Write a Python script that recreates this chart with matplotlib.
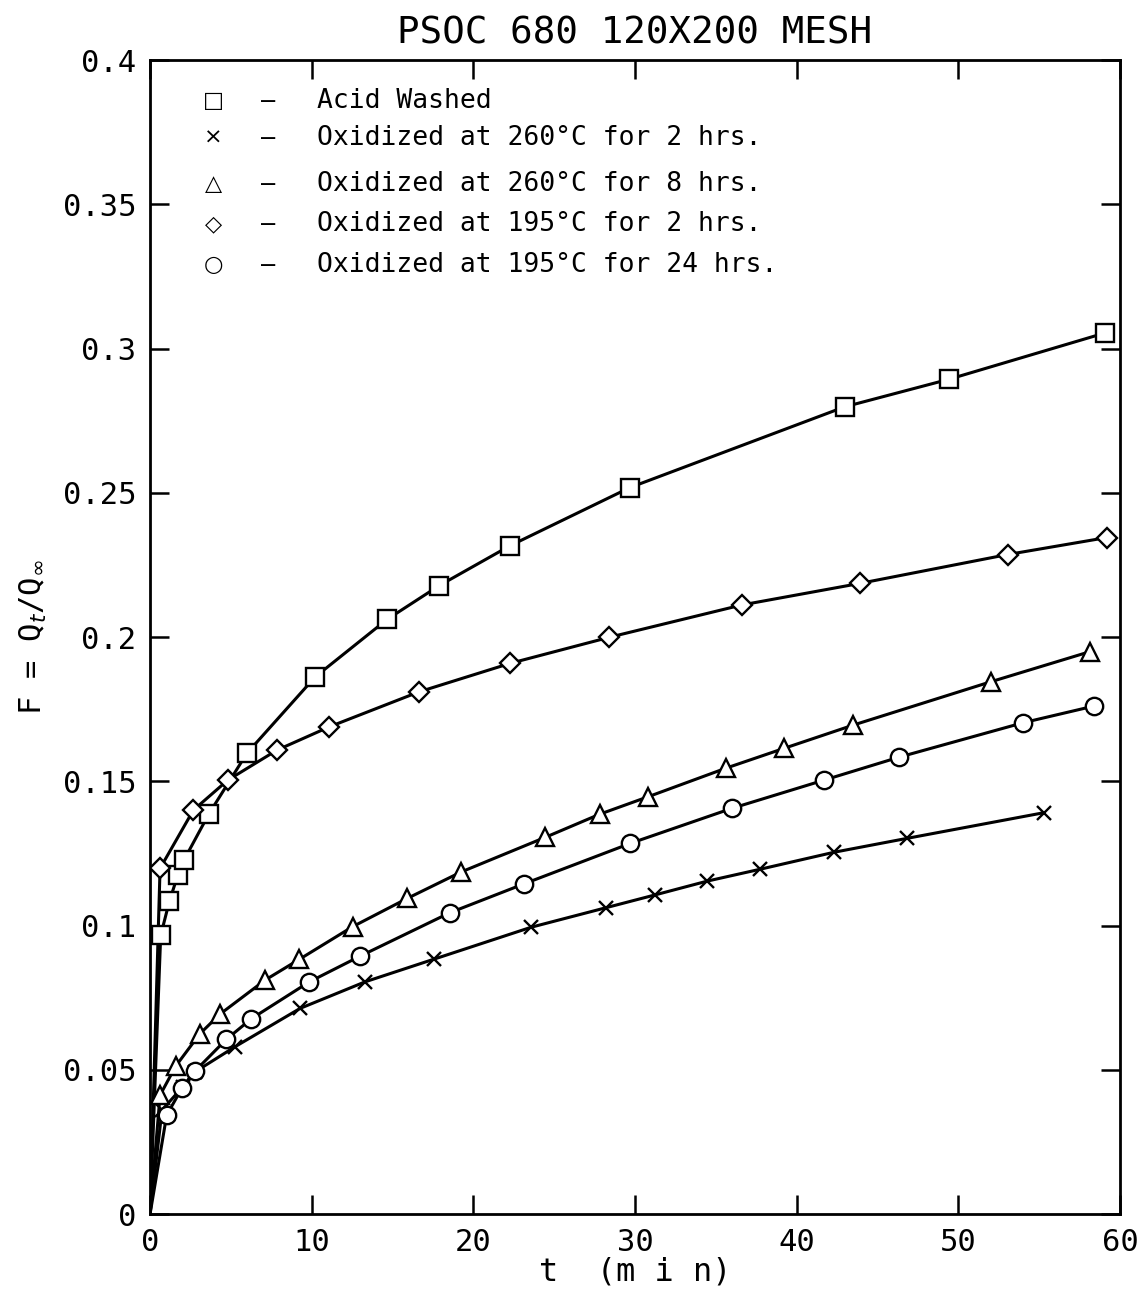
#!/usr/bin/env python3
"""fractional uptake vs time, PSOC 680 120x200 mesh"""

import matplotlib
matplotlib.use("Agg")
import matplotlib.pyplot as plt
from matplotlib.ticker import FuncFormatter

plt.rcParams["font.family"] = ["DejaVu Sans Mono", "DejaVu Sans"]
plt.rcParams["mathtext.fontset"] = "dejavusans"

# data (t in min, F = Qt/Qinf)
acid_t = [0.66, 1.20, 1.72, 2.09, 3.63, 5.99, 10.22, 14.66, 17.88, 22.25,
          29.68, 42.97, 49.45, 59.07]
acid_f = [0.0966, 0.1085, 0.1175, 0.1226, 0.1386, 0.1597, 0.1862, 0.2061,
          0.2178, 0.2316, 0.2518, 0.2798, 0.2894, 0.3054]

ox260_2_t = [0.74, 2.02, 2.79, 5.26, 9.29, 13.31, 17.54, 23.57, 28.22, 31.23,
             34.47, 37.73, 42.31, 46.81, 55.28]
ox260_2_f = [0.036, 0.0441, 0.0493, 0.0580, 0.0713, 0.0805, 0.0883, 0.0994,
             0.1062, 0.1106, 0.1154, 0.1195, 0.1254, 0.1302, 0.1391]

ox260_8_t = [0.62, 1.58, 3.07, 4.33, 7.12, 9.24, 12.53, 15.91, 19.26, 24.46,
             27.82, 30.79, 35.60, 39.21, 43.51, 52.01, 58.12]
ox260_8_f = [0.0412, 0.0512, 0.0624, 0.0693, 0.0811, 0.0883, 0.0996, 0.1094,
             0.1186, 0.1306, 0.1386, 0.1446, 0.1545, 0.1614, 0.1695, 0.1845,
             0.1949]

ox195_2_t = [0.62, 2.68, 4.81, 7.85, 11.10, 16.64, 22.29, 28.40, 36.59,
             43.92, 53.05, 59.2]
ox195_2_f = [0.1198, 0.1400, 0.1504, 0.1608, 0.1689, 0.1810, 0.1909, 0.1999,
             0.2111, 0.2186, 0.2286, 0.2345]

ox195_24_t = [1.03, 1.99, 2.79, 4.71, 6.27, 9.86, 13.00, 18.53, 23.11, 29.72,
              35.98, 41.69, 46.30, 54.01, 58.41]
ox195_24_f = [0.0343, 0.0438, 0.0496, 0.0605, 0.0677, 0.0805, 0.0894, 0.1044,
              0.1144, 0.1285, 0.1406, 0.1504, 0.1583, 0.1703, 0.1761]

labels = [
    "Acid Washed",
    "Oxidized at 260°C for 2 hrs.",
    "Oxidized at 260°C for 8 hrs.",
    "Oxidized at 195°C for 2 hrs.",
    "Oxidized at 195°C for 24 hrs.",
]
symbols = ["□", "×", "△", "◇", "○"]
x_ticks = [0, 10, 20, 30, 40, 50, 60]
y_ticks = [0, 0.05, 0.1, 0.15, 0.2, 0.25, 0.3, 0.35, 0.4]

series = [
    (acid_t, acid_f, "s", 12.5),
    (ox260_2_t, ox260_2_f, "x", 10),
    (ox260_8_t, ox260_8_f, "^", 13),
    (ox195_2_t, ox195_2_f, "D", 10),
    (ox195_24_t, ox195_24_f, "o", 12.5),
]

fig = plt.figure(figsize=(11.41, 12.94), dpi=100)
ax = fig.add_axes([0.1315, 0.0618, 0.8501, 0.8918])

for t, f, mk, ms in series:
    # every curve starts at the origin
    ax.plot([0] + t, [0] + f, color="black", linewidth=2.2, zorder=2)
    ax.plot(t, f, linestyle="none", marker=mk, markersize=ms,
            markerfacecolor="white", markeredgecolor="black",
            markeredgewidth=1.7, zorder=3)

ax.set_xlim(0, 60)
ax.set_ylim(0, 0.4)
ax.set_xticks(x_ticks)
ax.set_yticks(y_ticks)
ax.yaxis.set_major_formatter(FuncFormatter(lambda v, p: "0" if v == 0 else f"{v:g}"))
ax.tick_params(direction="in", length=14, width=1.8, top=True, right=True,
               labelsize=22, pad=10)
for sp in ax.spines.values():
    sp.set_linewidth(2.0)

ax.set_xlabel("t  (m i n)", fontsize=23, labelpad=0)
ax.set_ylabel(r"F = Q$_t$/Q$_\infty$", fontsize=22, labelpad=10)
ax.set_title("PSOC 680 120X200 MESH", fontsize=27, pad=12)

# hand-drawn style legend: symbol, dash, description
rows_y = [0.9645, 0.9324, 0.8925, 0.8579, 0.8224]
for sym, lab, yy in zip(symbols, labels, rows_y):
    ax.text(0.065, yy, sym, transform=ax.transAxes, fontsize=16,
            ha="center", va="center", family="DejaVu Sans")
    ax.text(0.122, yy, "–", transform=ax.transAxes, fontsize=17,
            ha="center", va="center")
    ax.text(0.172, yy, lab, transform=ax.transAxes, fontsize=19,
            ha="left", va="center")

fig.savefig("out.png", dpi=100)
